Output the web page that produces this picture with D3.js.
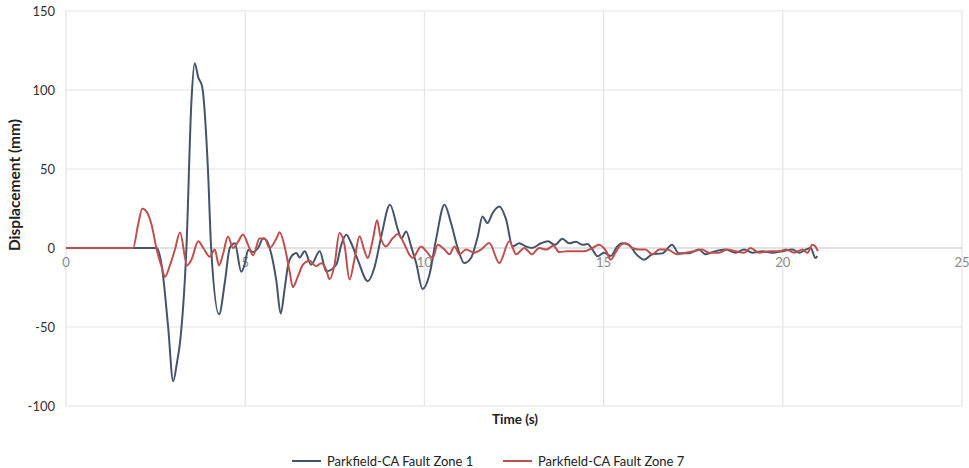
<!DOCTYPE html>
<html>
<head>
<meta charset="utf-8">
<script src="https://cdn.jsdelivr.net/npm/d3@7"></script>
<style>
  body { margin: 0; background: #fff; }
  svg { display: block; font-family: Lato, 'Open Sans', sans-serif; }
</style>
</head>
<body>
<svg id="chart"></svg>
<script>
const seriesNames = ['Parkfield-CA Fault Zone 1', 'Parkfield-CA Fault Zone 7']

const timeZone1 = [0, 2.53, 2.67, 2.85, 2.99, 3.1, 3.18, 3.36, 3.5, 3.59, 3.69, 3.8, 3.96, 4.05, 4.27, 4.43, 4.57, 4.71, 4.89, 4.99, 5.08, 5.22, 5.36, 5.5, 5.59, 5.73, 5.87, 5.99, 6.1, 6.19, 6.29, 6.43, 6.52, 6.66, 6.84, 7.08, 7.26, 7.54, 7.68, 7.82, 7.96, 8.15, 8.42, 8.61, 8.8, 9.04, 9.26, 9.36, 9.49, 9.63, 9.77, 9.95, 10.14, 10.32, 10.56, 10.74, 10.93, 11.11, 11.3, 11.49, 11.62, 11.76, 11.9, 12.09, 12.28, 12.46, 12.65, 12.83, 13.0, 13.25, 13.45, 13.64, 13.85, 14.04, 14.23, 14.41, 14.55, 14.69, 14.83, 15.01, 15.2, 15.38, 15.52, 15.71, 15.89, 16.13, 16.36, 16.64, 16.91, 17.1, 17.38, 17.66, 17.84, 18.12, 18.4, 18.68, 18.92, 19.15, 19.43, 19.71, 19.99, 20.27, 20.46, 20.64, 20.78, 20.91, 20.96]
const dispZone1 = [0, 0, -11, -50, -84.4, -72, -60, 0, 93, 117, 108, 102, 50, 0, -42, -22, 0, 3, -15, -10, -1.3, -2.5, 0, 6, 5, -4, -21, -41.5, -26, -11.6, -5.3, -3.2, -6, -2, -10.6, -2, -14.8, -10.6, 2, 8.4, 3, -8, -21, -12, 7.7, 27.4, 11.6, 6, 10.5, 1, -9.5, -26, -17, 4.8, 27.4, 16, 0, -9.5, -6.3, 7.4, 20, 15.8, 22, 26.3, 18, 1, 3, 1, 0, 3, 4.2, 2, 5.9, 3, 4, 2, 2.5, -1, -5.3, -3, -5, 1, 3, 2, -3.4, -7.4, -4, -3.4, 2, -3.4, -3.4, -1, -4, -2, -1, -3, -1, -3, -2, -3, -2, -1, -3, -1, 0, -6.3, -5]

const timeZone7 = [0, 1.87, 2.01, 2.13, 2.25, 2.39, 2.53, 2.67, 2.76, 2.9, 3.04, 3.18, 3.38, 3.5, 3.69, 3.83, 4.01, 4.15, 4.27, 4.38, 4.52, 4.66, 4.8, 4.94, 5.08, 5.22, 5.4, 5.54, 5.68, 5.87, 5.96, 6.1, 6.24, 6.33, 6.47, 6.61, 6.8, 6.98, 7.12, 7.26, 7.35, 7.49, 7.63, 7.77, 7.91, 8.05, 8.19, 8.33, 8.42, 8.56, 8.68, 8.77, 8.93, 9.12, 9.26, 9.45, 9.58, 9.67, 9.91, 10.05, 10.23, 10.37, 10.56, 10.7, 10.84, 10.98, 11.16, 11.4, 11.58, 11.81, 12.09, 12.37, 12.56, 12.79, 13.0, 13.2, 13.4, 13.6, 13.76, 14.0, 14.23, 14.46, 14.69, 14.87, 15.07, 15.2, 15.33, 15.48, 15.62, 15.8, 15.99, 16.17, 16.36, 16.55, 16.78, 17.06, 17.29, 17.52, 17.75, 17.94, 18.22, 18.45, 18.68, 18.92, 19.1, 19.34, 19.62, 19.9, 20.09, 20.32, 20.55, 20.69, 20.82, 20.91, 20.98]
const dispZone7 = [0, 0, 14.5, 25, 23, 14.5, -1, -12, -18.3, -11, -1, 9.8, -11, -7.4, 4.2, 0, -5.5, -1, -11, -4, 7.3, 0, 4, 8.5, 2, -4.6, 6, 6, 0, 6, 10, 1, -15, -24.7, -18, -10.6, -8, -11.6, -9.7, -13.7, -19.8, -11, 9.5, 2, -20, -7, 7.4, -2, -6.3, 5.3, 17.5, 7.5, 1, 6.3, 8.8, 2, -4.2, -6.3, 1, -2, -6.3, 2, -1, -4, 1, -4, -1, -3, -1, 3.2, -9.5, 4.2, -4, 0, -4, 0, -1, 1.5, -2.6, -2, -2, -2, 0, 2, -2, -7.4, -3, 2, 3, 0, -1, -1, -4, -1, -1, -4, -3, -2, -1, -3, -3, -1, -2, -3, 0, -3, -2, -2, -1, -3, -1, -3, 2, 1, -2]

const xTicks = [0, 5, 10, 15, 20, 25]
const yTicks = [-100, -50, 0, 50, 100, 150]
const seriesColors = ['#44546a', '#c0504d']

const width = 969
const height = 468
const margin = { top: 11, right: 7, bottom: 62, left: 66 }

const svg = d3.select('#chart').attr('width', width).attr('height', height)

const xScale = d3.scaleLinear().domain([0, 25]).range([margin.left, width - margin.right])
const yScale = d3.scaleLinear().domain([-100, 150]).range([height - margin.bottom, margin.top])

// grid
svg
  .append('g')
  .selectAll('line')
  .data(xTicks)
  .enter()
  .append('line')
  .attr('x1', (d) => xScale(d))
  .attr('x2', (d) => xScale(d))
  .attr('y1', yScale(150))
  .attr('y2', yScale(-100))
  .attr('stroke', '#e3e3e8')
  .attr('stroke-width', 1.2)

svg
  .append('g')
  .selectAll('line')
  .data(yTicks)
  .enter()
  .append('line')
  .attr('x1', xScale(0))
  .attr('x2', xScale(25))
  .attr('y1', (d) => yScale(d))
  .attr('y2', (d) => yScale(d))
  .attr('stroke', (d) => (d === 0 ? '#c4c6cc' : '#e3e3e8'))
  .attr('stroke-width', 1.2)

// y tick labels
svg
  .append('g')
  .selectAll('text')
  .data(yTicks)
  .enter()
  .append('text')
  .attr('x', xScale(0) - 11)
  .attr('y', (d) => yScale(d))
  .attr('dy', '0.35em')
  .attr('text-anchor', 'end')
  .attr('font-size', 13)
  .attr('fill', '#333')
  .text((d) => d)

// x tick labels sit just under the zero line
svg
  .append('g')
  .selectAll('text')
  .data(xTicks)
  .enter()
  .append('text')
  .attr('x', (d) => xScale(d))
  .attr('y', yScale(0) + 19)
  .attr('text-anchor', 'middle')
  .attr('font-size', 13)
  .attr('fill', '#8a8a8a')
  .text((d) => d)

// lines, zone 7 drawn last so it sits on top
const line = d3
  .line()
  .x((d) => xScale(d[0]))
  .y((d) => yScale(d[1]))
  .curve(d3.curveMonotoneX)

const series = [
  d3.zip(timeZone1, dispZone1),
  d3.zip(timeZone7, dispZone7)
]

svg
  .append('g')
  .selectAll('path')
  .data(series)
  .enter()
  .append('path')
  .attr('d', line)
  .attr('fill', 'none')
  .attr('stroke', (d, i) => seriesColors[i])
  .attr('stroke-width', 2)
  .attr('stroke-linejoin', 'round')

// axis titles
svg
  .append('text')
  .attr('transform', `translate(20, 185) rotate(-90)`)
  .attr('text-anchor', 'middle')
  .attr('font-size', 15.5)
  .attr('font-weight', 'bold')
  .attr('fill', '#222')
  .text('Displacement (mm)')

svg
  .append('text')
  .attr('x', 515)
  .attr('y', 424)
  .attr('text-anchor', 'middle')
  .attr('font-size', 13.5)
  .attr('font-weight', 'bold')
  .attr('fill', '#222')
  .text('Time (s)')

// legend
const legendX = [292, 503]
const legend = svg
  .append('g')
  .selectAll('g')
  .data(seriesNames)
  .enter()
  .append('g')
  .attr('transform', (d, i) => `translate(${legendX[i]}, 461)`)

legend
  .append('line')
  .attr('x1', 0)
  .attr('x2', 29)
  .attr('stroke', (d, i) => seriesColors[i])
  .attr('stroke-width', 2)

legend
  .append('text')
  .attr('x', 35)
  .attr('dy', '0.35em')
  .attr('font-size', 13)
  .attr('fill', '#222')
  .text((d) => d)
</script>
</body>
</html>
